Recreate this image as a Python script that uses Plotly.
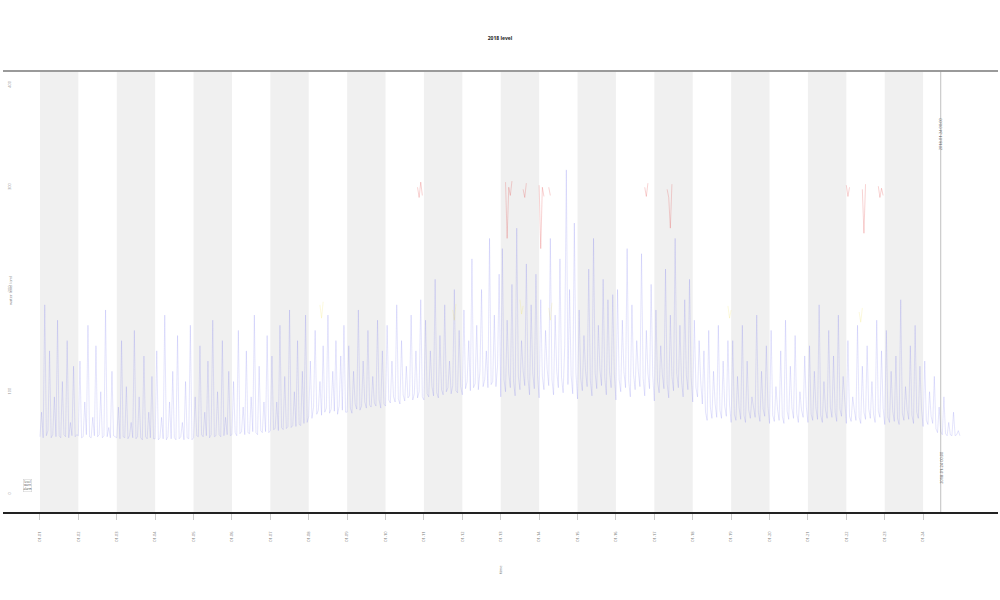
import plotly.graph_objects as go

# ---------------- data (hourly readings, 24 days) ----------------
day_labels = ["01-%02d" % d for d in range(1, 25)]

level_rows = [
    [56,80,55,185,57,62,140,55,58,95,56,170,57,55,110,58,56,150,55,70,57,125,56,58],
    [57,130,55,56,90,58,165,56,55,75,57,145,56,58,100,55,57,180,56,65,55,120,57,56],
    [55,85,54,150,56,55,105,54,57,70,55,160,54,56,95,55,53,135,56,54,80,55,115,54],
    [54,140,53,55,75,54,175,53,56,90,54,120,55,53,155,54,56,70,53,110,55,54,165,53],
    [55,95,57,56,145,58,56,80,57,130,55,58,170,56,57,100,58,56,150,57,75,58,120,57],
    [58,110,60,57,160,59,61,85,58,140,60,59,95,61,175,60,58,125,62,60,90,61,155,60],
    [62,135,63,64,90,62,165,65,63,115,64,66,180,65,67,100,66,150,68,67,120,69,175,70],
    [76,130,74,85,160,78,82,110,77,145,80,84,175,79,83,120,81,150,78,86,135,82,165,80],
    [80,145,84,79,120,88,83,180,82,86,130,90,84,160,87,85,115,89,86,170,92,84,140,88],
    [86,165,92,89,130,95,90,185,93,88,150,97,91,125,94,96,175,92,98,140,94,100,190,95],
    [92,170,98,95,140,105,96,210,99,94,155,102,97,185,100,104,130,98,106,200,101,99,160,105],
    [97,180,103,110,150,101,230,104,108,165,102,120,200,105,112,140,104,250,107,110,175,105,125,215],
    [95,240,112,100,170,118,104,205,110,96,260,115,102,150,120,106,225,113,97,185,118,103,215,116],
    [94,190,115,102,160,122,106,250,112,97,175,120,104,230,114,99,145,317,107,200,116,98,265,118],
    [93,180,113,101,155,120,105,220,111,96,250,118,103,165,121,106,210,114,97,190,119,104,195,117],
    [92,200,112,100,170,119,104,240,110,95,185,117,102,150,120,105,235,113,96,160,118,103,205,116],
    [91,180,110,99,145,117,103,220,108,94,175,115,101,250,118,104,165,111,95,190,116,102,210,114],
    [90,170,104,95,150,110,88,140,80,72,160,85,74,120,88,75,165,82,74,130,86,76,150,87],
    [70,150,78,72,115,84,73,165,77,70,130,82,74,95,85,75,175,80,71,120,83,76,145,86],
    [69,160,77,71,105,83,72,140,76,69,170,81,73,125,84,74,155,79,70,100,82,75,135,85],
    [70,145,78,72,120,84,73,185,77,70,110,82,74,160,85,75,135,80,71,175,83,76,115,86],
    [69,150,76,71,95,82,72,165,75,69,125,80,73,145,83,74,110,78,70,170,81,75,140,84],
    [68,160,75,70,120,81,71,135,74,68,190,79,72,105,82,73,145,77,69,165,80,74,125,83],
    [66,130,72,68,100,76,69,115,64,60,85,61,58,95,59,57,70,58,57,80,57,58,62,57],
]
level = [v for row in level_rows for v in row]
hours = list(range(len(level)))

alarm_hours = [236, 237, 238, 239, None, 291, 292, 293, 294, 295, None,
               302, 303, 304, None, 312, 313, 314, 315, None, 318, 319, None,
               378, 379, 380, None, 392, 393, 394, 395, None,
               504, 505, 506, None, 514, 515, 516, None, 524, 525, 526, 527]
alarm_values = [300, 290, 305, 292, None, 305, 250, 300, 292, 306, None,
                298, 290, 304, None, 302, 240, 300, 291, None, 300, 292, None,
                300, 291, 304, None, 298, 290, 260, 303, None,
                302, 291, 300, None, 298, 255, 303, None, 301, 290, 299, 292]

warn_hours = [175, 176, 177, None, 258, 259, 260, None, 300, 301, 302, None,
              318, 319, 320, None, 430, 431, 432, None, 512, 513, 514]
warn_values = [185, 172, 188, None, 180, 170, 186, None, 190, 176, 184, None,
               182, 170, 187, None, 184, 172, 180, None, 178, 168, 182]

marker_hour = 563

# ---------------- figure ----------------
fig = go.Figure()

fig.add_trace(go.Scatter(x=hours, y=level, mode="lines", name="level",
                         line=dict(color="rgba(80,80,235,0.3)", width=0.5)))
fig.add_trace(go.Scatter(x=warn_hours, y=warn_values, mode="lines", name="warning",
                         line=dict(color="rgba(240,220,60,0.35)", width=0.5)))
fig.add_trace(go.Scatter(x=alarm_hours, y=alarm_values, mode="lines", name="alarm",
                         line=dict(color="rgba(225,60,60,0.45)", width=0.5)))

shapes = []
for d in range(0, 24, 2):
    shapes.append(dict(type="rect", xref="x", yref="paper", x0=d * 24, x1=(d + 1) * 24,
                       y0=0, y1=1, fillcolor="#f0f0f0", line=dict(width=0), layer="below"))
shapes.append(dict(type="line", xref="paper", yref="paper", x0=0, x1=1, y0=1, y1=1,
                   line=dict(color="#9a9a9a", width=2)))
shapes.append(dict(type="line", xref="x", yref="paper", x0=marker_hour, x1=marker_hour,
                   y0=0, y1=1, line=dict(color="rgba(150,150,150,0.6)", width=1)))

annotations = [
    dict(x=marker_hour, y=0.9, xref="x", yref="paper", text="2018-01-24 00:00",
         textangle=-90, showarrow=False, font=dict(size=4, color="#555")),
    dict(x=marker_hour, y=0.06, xref="x", yref="paper", text="2018-01-24 00:00",
         textangle=-90, showarrow=False, font=dict(size=4, color="#555")),
    dict(x=0.003, y=200, xref="paper", yref="y", text="water level (cm)",
         textangle=-90, showarrow=False, font=dict(size=4, color="#888")),
    dict(x=-8, y=8, xref="x", yref="y", text="level<br>warn<br>alarm",
         showarrow=False, font=dict(size=3, color="#444"), bgcolor="white",
         bordercolor="#ccc", borderwidth=0.5, borderpad=0),
    dict(x=0.5, y=-0.145, xref="paper", yref="paper", text="time",
         textangle=-90, showarrow=False, font=dict(size=4, color="#777")),
]

fig.update_layout(
    width=1000, height=600,
    margin=dict(l=3, r=2, t=71, b=88),
    paper_bgcolor="white", plot_bgcolor="white",
    showlegend=False,
    title=dict(text="<b>2018 level</b>", x=0.5, xanchor="center", y=0.94,
               font=dict(size=5, color="#222")),
    shapes=shapes, annotations=annotations,
    xaxis=dict(range=[-23.1, 598.8], tickvals=[d * 24 for d in range(24)],
               ticktext=day_labels, tickangle=-90, tickfont=dict(size=4, color="#777"),
               ticks="outside", ticklen=6, tickcolor="#ccc", ticklabelstandoff=10,
               showgrid=False, zeroline=False, showline=True, linecolor="#222", linewidth=1.5),
    yaxis=dict(range=[-17.6, 413.7], tickvals=[0, 100, 200, 300, 400],
               ticktext=["0", "100", "200", "300", "400"], tickangle=-90,
               ticklabelposition="inside", tickfont=dict(size=4, color="#999"),
               showgrid=False, zeroline=False, showline=False),
)

fig.write_html("out.html", config={"displayModeBar": False},
               post_script="document.body.style.margin='0';")
